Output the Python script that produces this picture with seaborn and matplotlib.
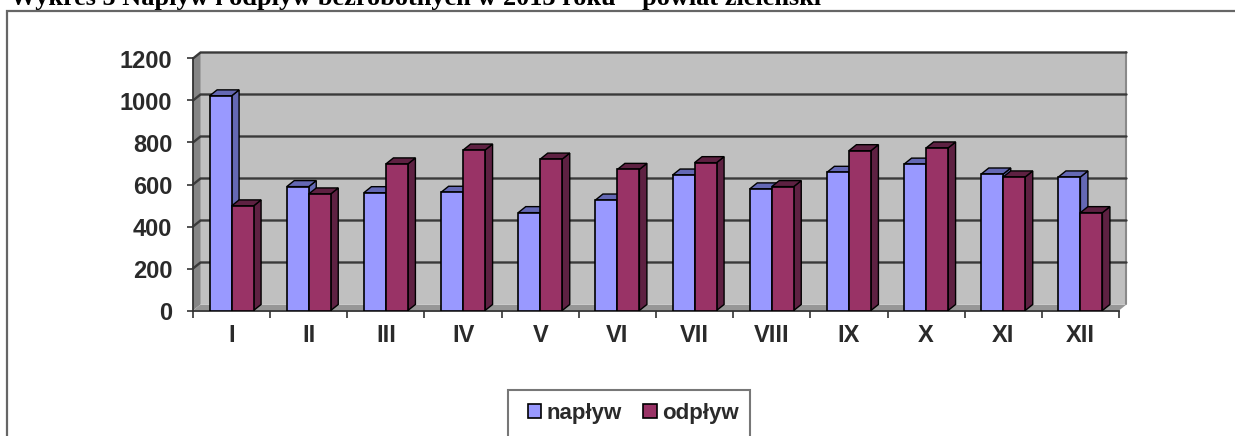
import pandas as pd
import matplotlib
matplotlib.use('Agg')
import matplotlib.pyplot as plt
from matplotlib.lines import Line2D
from matplotlib.patches import Polygon, Rectangle
import seaborn as sns

sns.set_theme(style='white')
plt.rcParams['font.family'] = ['Liberation Sans', 'DejaVu Sans']

# =====================================================
# DATA
# =====================================================
title = 'Wykres 5 Napływ i odpływ bezrobotnych w 2013 roku – powiat zieleński'
months = ['I', 'II', 'III', 'IV', 'V', 'VI', 'VII', 'VIII', 'IX', 'X', 'XI', 'XII']
naplyw = [1022, 590, 561, 563, 466, 526, 645, 579, 658, 697, 650, 636]
odplyw = [498, 555, 698, 764, 721, 672, 704, 590, 761, 774, 636, 466]

df = pd.DataFrame({
    'month': months * 2,
    'seria': ['napływ'] * 12 + ['odpływ'] * 12,
    'value': naplyw + odplyw
})

# =====================================================
# STYLE
# =====================================================
W, H = 1235, 436
front = {'napływ': '#9999FF', 'odpływ': '#993366'}
side = {'napływ': '#6468B4', 'odpływ': '#5E2142'}
text_col = '#2a2a2a'
DX = 7.5 / 77.17   # depth of the 3d box, category units
DY = 28.6          # depth of the 3d box, value units

fig = plt.figure(figsize=(W / 100, H / 100), dpi=100)
ax = fig.add_axes([193 / W, 1 - 310.5 / H, (1119 - 193) / W, (310.5 - 58.5) / H])
ax.patch.set_alpha(0)

sns.barplot(ax=ax, data=df, x='month', y='value', hue='seria', palette=front,
            width=0.57, gap=0, saturation=1, edgecolor='black', linewidth=1.2)
ax.set_xlim(-0.5, 11.5)
ax.set_ylim(0, 1200)
ax.set(xlabel='', ylabel='')

# =====================================================
# WALLS AND GRID
# =====================================================
x0, x1 = -0.5, 11.5
y1 = 1200
ax.add_patch(Polygon([(x0 + DX, DY), (x1 + DX, DY), (x1 + DX, y1 + DY), (x0 + DX, y1 + DY)],
                     fc='#C0C0C0', ec='none', zorder=0.5, clip_on=False))
ax.add_patch(Polygon([(x0, 0), (x0 + DX, DY), (x0 + DX, y1 + DY), (x0, y1)],
                     fc='#858585', ec='none', zorder=0.6, clip_on=False))
ax.add_patch(Polygon([(x0, 0), (x1, 0), (x1 + DX, DY), (x0 + DX, DY)],
                     fc='#969696', ec='none', zorder=0.6, clip_on=False))
ax.plot([x1 + DX, x1 + DX], [DY, y1 + DY], color='#8a8a8a', lw=1.5, zorder=0.7, clip_on=False)

for tick in [200, 400, 600, 800, 1000, 1200]:
    ax.plot([x0, x0 + DX, x1 + DX], [tick, tick + DY, tick + DY], color='#3a3a3a',
            lw=1.7, zorder=0.8, clip_on=False, solid_joinstyle='miter')

# =====================================================
# 3D BOX FACES
# =====================================================
for level, (container, name) in enumerate(zip(ax.containers, ['napływ', 'odpływ'])):
    for bar in container:
        left = bar.get_x()
        right = left + bar.get_width()
        top = bar.get_height()
        bar.set_zorder(3 + 2 * level)
        ax.add_patch(Polygon([(right, 0), (right + DX, DY), (right + DX, top + DY), (right, top)],
                             fc=side[name], ec='black', lw=1, zorder=2 + 2 * level, clip_on=False))
        ax.add_patch(Polygon([(left, top), (right, top), (right + DX, top + DY), (left + DX, top + DY)],
                             fc=side[name], ec='black', lw=1, zorder=2 + 2 * level, clip_on=False))

# =====================================================
# AXES
# =====================================================
sns.despine(ax=ax, top=True, right=True)
for spine in ['left', 'bottom']:
    ax.spines[spine].set_color('#333333')
    ax.spines[spine].set_linewidth(1.3)
    ax.spines[spine].set_zorder(1)

ax.set_yticks([0, 200, 400, 600, 800, 1000, 1200])
ax.tick_params(axis='y', direction='out', length=4, width=1.2, color='#333333', left=True,
               labelsize=17, labelcolor=text_col, pad=11)
ax.set_xticks(range(12), months)
ax.set_xticks([i - 0.5 for i in range(13)], minor=True)
ax.tick_params(axis='x', which='major', length=0, labelsize=17, labelcolor=text_col, pad=10)
ax.tick_params(axis='x', which='minor', direction='out', length=5, width=1.2, color='#333333', bottom=True)
for label in ax.get_xticklabels() + ax.get_yticklabels():
    label.set_fontweight('bold')

# =====================================================
# LEGEND
# =====================================================
fig.add_artist(Rectangle((508 / W, -10 / H), 242 / W, (436 - 390 + 10) / H, transform=fig.transFigure,
                         fc='white', ec='#777777', lw=1.5, zorder=-1))
sns.move_legend(ax, 'upper left', bbox_to_anchor=(528 / W, 1 - 403 / H),
                bbox_transform=fig.transFigure, ncol=2, title=None, frameon=False,
                borderaxespad=0, borderpad=0,
                handlelength=0.6, handleheight=0.6, handletextpad=0.25, columnspacing=0.95,
                prop={'size': 16, 'weight': 'bold'})
for txt in ax.get_legend().get_texts():
    txt.set_color(text_col)
ax.get_legend().set_zorder(10)

# =====================================================
# OUTER FRAME AND TITLE
# =====================================================
fig.add_artist(Line2D([7 / W, 7 / W, 1], [0, 1 - 11 / H, 1 - 11 / H], color='#666666', lw=1.6,
                      solid_joinstyle='miter'))
fig.text(10 / W, 1 - 4.5 / H, title, family='Liberation Serif', weight='bold', fontsize=18.9,
         color='black', ha='left', va='baseline')

fig.savefig('out.png', dpi=100)
plt.close()
